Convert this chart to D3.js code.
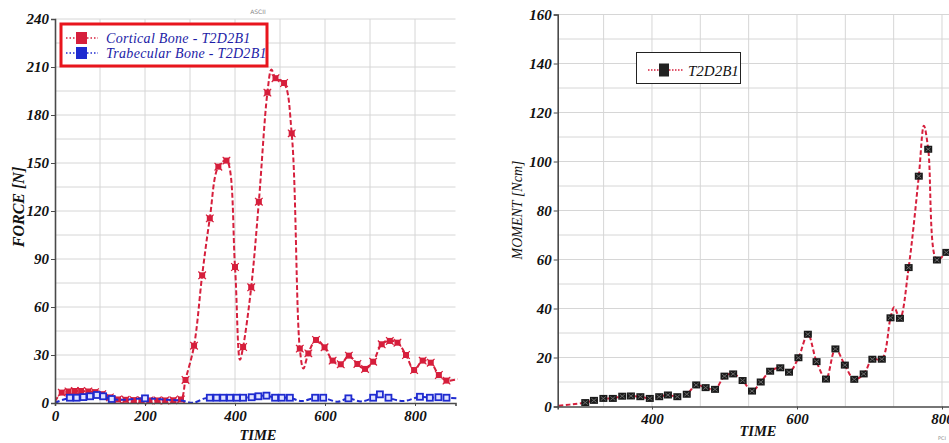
<!DOCTYPE html>
<html>
<head>
<meta charset="utf-8">
<script src="https://cdn.jsdelivr.net/npm/d3@7"></script>
<style>
  body { margin: 0; background: #fff; }
  svg { display: block; }
</style>
</head>
<body>
<div id="chart-container"></div>
<script>
/**************************************************
 * Data
 **************************************************/

// Force chart: [time, force, marker?]
const corticalBone = [
  [0, 1, 0], [15, 6.5, 1], [30, 7.2, 1], [44, 7.5, 1], [58, 7.5, 1], [74, 7.2, 1],
  [89, 6.8, 1], [105, 5.5, 1], [122, 3.5, 1], [140, 2.2, 1], [157, 2.0, 1], [175, 1.8, 1],
  [192, 1.7, 1], [210, 1.6, 1], [228, 1.6, 1], [245, 1.6, 1], [263, 1.7, 1], [280, 2.2, 1],
  [290, 14.4, 1], [309, 35.8, 1], [327, 79.8, 1], [344, 115.4, 1], [363, 147.7, 1],
  [381, 151.5, 1], [400, 85, 1], [411, 27, 0], [418, 35, 1], [436, 72.3, 1], [453, 125.8, 1],
  [472, 194, 1], [481, 208.5, 0], [490, 203, 1], [509, 200, 1], [526, 168.5, 1], [544, 34, 1],
  [552, 21.5, 0], [563, 31, 1], [580, 39.4, 1], [599, 34.8, 1], [617, 26.5, 1], [635, 24.2, 1],
  [653, 29.6, 1], [672, 24.4, 1], [689, 21.3, 1], [707, 25.8, 1], [726, 36.7, 1], [744, 38.8, 1],
  [761, 37.7, 1], [780, 30, 1], [798, 20.6, 1], [817, 26.5, 1], [835, 25.2, 1], [853, 17.5, 1],
  [870, 14, 1], [895, 15, 0]
];

const trabecularBone = [
  [0, 0.2, 0], [33, 3.3, 1], [48, 3.3, 1], [63, 3.7, 1], [78, 4.2, 1], [93, 5.0, 1],
  [107, 4.2, 1], [126, 2.5, 1], [150, 2.0, 0], [200, 2.9, 1], [250, 2.0, 0], [280, 1.5, 0],
  [307, 0.2, 0], [333, 2.9, 0], [344, 3.3, 1], [359, 3.3, 1], [374, 3.3, 1], [389, 3.3, 1],
  [404, 3.3, 1], [418, 3.3, 1], [437, 3.6, 1], [452, 4.2, 1], [470, 4.6, 1], [489, 3.3, 1],
  [504, 3.3, 1], [522, 3.3, 1], [548, 1.2, 0], [578, 3.3, 1], [596, 3.3, 1], [628, 0.8, 0],
  [652, 2.9, 1], [680, 1.0, 0], [707, 3.3, 1], [722, 5.4, 1], [741, 3.3, 1], [774, 1.2, 0],
  [811, 3.9, 1], [833, 3.3, 1], [852, 3.6, 1], [870, 3.3, 1], [892, 2.9, 0]
];

// Moment chart: [time, moment, marker?]
const momentT2D2B1 = [
  [262, 0, 0], [308, 1.6, 1], [320, 2.5, 1], [333, 3.3, 1], [346, 3.3, 1], [359, 4.2, 1],
  [371, 4.3, 1], [384, 4.0, 1], [397, 3.3, 1], [410, 4.0, 1], [422, 4.7, 1], [435, 4.0, 1],
  [448, 5.0, 1], [461, 8.8, 1], [474, 7.7, 1], [487, 7.0, 1], [500, 12.4, 1], [512, 13.3, 1],
  [525, 10.6, 1], [538, 6.3, 1], [550, 10.0, 1], [563, 14.4, 1], [577, 15.8, 1], [589, 14.0, 1],
  [602, 19.9, 1], [615, 29.5, 1], [627, 18.3, 1], [640, 11.2, 1], [653, 23.5, 1], [666, 16.9, 1],
  [679, 11.1, 1], [692, 13.3, 1], [704, 19.3, 1], [717, 19.3, 1], [729, 36.2, 1], [734, 40.5, 0],
  [742, 36.0, 1], [754, 56.7, 1], [768, 94, 1], [775, 114.6, 0], [781, 105, 1], [793, 59.8, 1],
  [806, 62.9, 1], [819, 66, 1]
];

const forceTicks = [0, 30, 60, 90, 120, 150, 180, 210, 240];
const forceTimeTicks = [0, 200, 400, 600, 800];
const momentTicks = [0, 20, 40, 60, 80, 100, 120, 140, 160];
const momentTimeTicks = [400, 600, 800];

const forceLegend = ["Cortical Bone - T2D2B1", "Trabecular Bone - T2D2B1"];
const momentLegend = ["T2D2B1"];

/**************************************************
 * Setup
 **************************************************/

const W = 949, H = 443;
const SERIF = "'Liberation Serif', 'Times New Roman', serif";
const RED = "#d61f3c", BLUE = "#1f2bd0", GRID = "#d6d6d6", AXIS = "#4a4a4a";

const svg = d3.select("#chart-container")
  .append("svg")
  .attr("width", W)
  .attr("height", H)
  .attr("font-family", SERIF);

const defs = svg.append("defs");

function clipRect(id, x0, y0, x1, y1) {
  defs.append("clipPath").attr("id", id)
    .append("rect")
    .attr("x", x0).attr("y", y0 - 6)
    .attr("width", x1 - x0 + 6).attr("height", y1 - y0 + 12);
}

function drawGrid(g, x, y, xGrid, yGrid) {
  const [x0, x1] = x.range(), [y1, y0] = y.range();
  g.append("g").selectAll("line")
    .data(xGrid).enter().append("line")
    .attr("x1", d => x(d)).attr("x2", d => x(d))
    .attr("y1", y0).attr("y2", y1)
    .attr("stroke", GRID).attr("stroke-width", 1);
  g.append("g").selectAll("line")
    .data(yGrid).enter().append("line")
    .attr("x1", x0).attr("x2", x1)
    .attr("y1", d => y(d)).attr("y2", d => y(d))
    .attr("stroke", GRID).attr("stroke-width", 1);
}

function drawAxes(g, x, y, xTicks, yTicks) {
  const [x0] = x.range(), [yb] = y.range();
  const ya = g.append("g")
    .attr("transform", `translate(${x0},0)`)
    .call(d3.axisLeft(y).tickValues(yTicks).tickSize(4).tickPadding(2).tickFormat(d3.format("d")));
  const xa = g.append("g")
    .attr("transform", `translate(0,${yb})`)
    .call(d3.axisBottom(x).tickValues(xTicks).tickSize(3).tickPadding(4).tickFormat(d3.format("d")));
  [ya, xa].forEach(a => {
    a.attr("font-family", SERIF);
    a.select(".domain").attr("stroke", AXIS).attr("stroke-width", 1.6);
    a.selectAll(".tick line").attr("stroke", AXIS);
    a.selectAll(".tick text")
      .attr("fill", "#111")
      .attr("font-size", 15)
      .attr("font-weight", "bold")
      .attr("font-style", "italic");
  });
}

const line = (x, y) => d3.line()
  .x(d => x(d[0]))
  .y(d => y(d[1]))
  .curve(d3.curveCatmullRom.alpha(0.5));

/**************************************************
 * Left: FORCE vs TIME
 **************************************************/

const xF = d3.scaleLinear().domain([0, 890]).range([55, 455.5]);
const yF = d3.scaleLinear().domain([0, 240]).range([403, 19]);
const gF = svg.append("g");
clipRect("clipF", 55, 19, 455.5, 403);

drawGrid(gF, xF, yF, d3.range(100, 890, 100), d3.range(15, 241, 15));

const plotF = gF.append("g").attr("clip-path", "url(#clipF)");

plotF.append("path")
  .datum(corticalBone)
  .attr("d", line(xF, yF))
  .attr("fill", "none")
  .attr("stroke", RED)
  .attr("stroke-width", 2)
  .attr("stroke-dasharray", "5,2.5");

plotF.append("g").selectAll("g")
  .data(corticalBone.filter(d => d[2]))
  .enter().append("g")
  .attr("transform", d => `translate(${xF(d[0])},${yF(d[1])})`)
  .each(function() {
    const m = d3.select(this);
    m.append("rect").attr("x", -3).attr("y", -3).attr("width", 6).attr("height", 6).attr("fill", RED);
    m.append("path").attr("d", "M-3.8,-3.8L3.8,3.8M3.8,-3.8L-3.8,3.8")
      .attr("stroke", RED).attr("stroke-width", 1.2);
  });

plotF.append("path")
  .datum(trabecularBone)
  .attr("d", line(xF, yF))
  .attr("fill", "none")
  .attr("stroke", BLUE)
  .attr("stroke-width", 2)
  .attr("stroke-dasharray", "5,2.5");

plotF.append("g").selectAll("rect")
  .data(trabecularBone.filter(d => d[2]))
  .enter().append("rect")
  .attr("x", d => xF(d[0]) - 3)
  .attr("y", d => yF(d[1]) - 3)
  .attr("width", 6).attr("height", 6)
  .attr("fill", "#dfe2ff")
  .attr("stroke", BLUE)
  .attr("stroke-width", 1.8);

drawAxes(gF, xF, yF, forceTimeTicks, forceTicks);

gF.append("text")
  .attr("transform", "translate(24,207) rotate(-90)")
  .attr("text-anchor", "middle")
  .attr("font-size", 16).attr("font-weight", "bold").attr("font-style", "italic")
  .attr("fill", "#111")
  .text("FORCE [N]");

gF.append("text")
  .attr("x", 258).attr("y", 440)
  .attr("text-anchor", "middle")
  .attr("font-size", 14.5).attr("font-weight", "bold").attr("font-style", "italic")
  .attr("fill", "#111")
  .text("TIME");

gF.append("text")
  .attr("x", 258).attr("y", 14)
  .attr("text-anchor", "middle")
  .attr("font-family", "'DejaVu Sans', sans-serif")
  .attr("font-size", 6).attr("fill", "#888")
  .text("ASCII");

// Legend (red frame)
const legF = gF.append("g");
legF.append("rect")
  .attr("x", 61).attr("y", 24).attr("width", 206).attr("height", 42)
  .attr("fill", "#fff").attr("stroke", "#e8151d").attr("stroke-width", 3);
forceLegend.forEach((name, i) => {
  const c = i === 0 ? RED : BLUE;
  const r = legF.append("g").attr("transform", `translate(0,${38 + i * 15})`);
  r.append("line").attr("x1", 66).attr("x2", 98).attr("y1", 0).attr("y2", 0)
    .attr("stroke", c).attr("stroke-width", 1.5).attr("stroke-dasharray", "1.5,2");
  r.append("rect").attr("x", 76).attr("y", -6).attr("width", 11).attr("height", 12).attr("fill", c);
  r.append("text").attr("x", 106).attr("y", 4.5)
    .attr("font-size", 14).attr("font-style", "italic")
    .attr("fill", "#1c1ca6").attr("letter-spacing", 0.3)
    .text(name);
});

/**************************************************
 * Right: MOMENT vs TIME
 **************************************************/

const xM = d3.scaleLinear().domain([270, 820]).range([557.7, 956.5]);
const yM = d3.scaleLinear().domain([0, 160]).range([406.5, 14.5]);
const gM = svg.append("g");
clipRect("clipM", 557.7, 14.5, 956.5, 406.5);

drawGrid(gM, xM, yM, d3.range(1000 / 3, 820, 200 / 3), d3.range(10, 161, 10));

const plotM = gM.append("g").attr("clip-path", "url(#clipM)");

plotM.append("path")
  .datum(momentT2D2B1)
  .attr("d", line(xM, yM))
  .attr("fill", "none")
  .attr("stroke", RED)
  .attr("stroke-width", 2)
  .attr("stroke-dasharray", "4.5,2.5");

plotM.append("g").selectAll("g")
  .data(momentT2D2B1.filter(d => d[2]))
  .enter().append("g")
  .attr("transform", d => `translate(${xM(d[0])},${yM(d[1])})`)
  .each(function() {
    const m = d3.select(this);
    m.append("rect").attr("x", -4).attr("y", -3.5).attr("width", 8).attr("height", 7).attr("fill", "#1a1a1a");
    m.append("path").attr("d", "M-2.5,-2L2.5,2M2.5,-2L-2.5,2")
      .attr("stroke", "#6a6a6a").attr("stroke-width", 1);
  });

drawAxes(gM, xM, yM, momentTimeTicks, momentTicks);

gM.append("text")
  .attr("transform", "translate(522,210) rotate(-90)")
  .attr("text-anchor", "middle")
  .attr("font-size", 14).attr("font-style", "italic")
  .attr("fill", "#111")
  .text("MOMENT [Ncm]");

gM.append("text")
  .attr("x", 758).attr("y", 436)
  .attr("text-anchor", "middle")
  .attr("font-size", 14.5).attr("font-weight", "bold").attr("font-style", "italic")
  .attr("fill", "#111")
  .text("TIME");

gM.append("text")
  .attr("x", 938).attr("y", 440)
  .attr("font-family", "'DejaVu Sans', sans-serif")
  .attr("font-size", 5).attr("fill", "#888")
  .text("PCI");

// Legend (black frame)
const legM = gM.append("g");
legM.append("rect")
  .attr("x", 636.5).attr("y", 52.5).attr("width", 104).attr("height", 31)
  .attr("fill", "#fff").attr("stroke", "#222").attr("stroke-width", 1);
momentLegend.forEach((name, i) => {
  const r = legM.append("g").attr("transform", `translate(0,${70 + i * 15})`);
  r.append("line").attr("x1", 648).attr("x2", 683).attr("y1", 0).attr("y2", 0)
    .attr("stroke", RED).attr("stroke-width", 1.3).attr("stroke-dasharray", "1.5,1.5");
  r.append("rect").attr("x", 659).attr("y", -6.5).attr("width", 10).attr("height", 13).attr("fill", "#222");
  r.append("text").attr("x", 688).attr("y", 5.5)
    .attr("font-size", 15).attr("font-style", "italic")
    .attr("fill", "#111")
    .text(name);
});
</script>
</body>
</html>
